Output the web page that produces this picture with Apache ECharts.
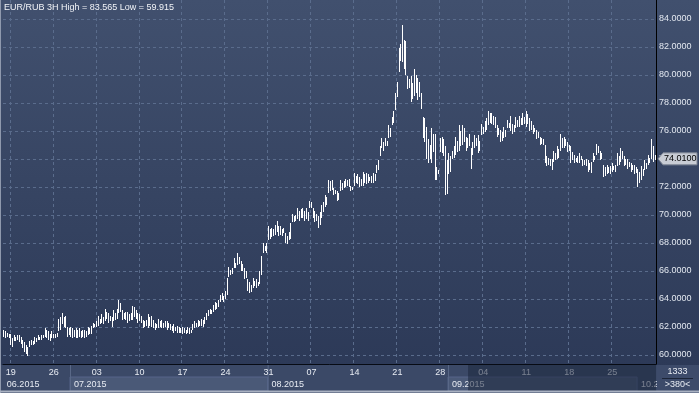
<!DOCTYPE html>
<html><head><meta charset="utf-8">
<script src="https://cdn.jsdelivr.net/npm/echarts@6/dist/echarts.min.js"></script>
<style>html,body{margin:0;padding:0;background:#2f3c5a}#c{width:699px;height:393px}</style>
</head><body><div id="c"></div>
<script>
// ---- data (3H bars, EUR/RUB) ----
const highs = [
61.8,61.7,61.6,61.5,61.5,61.2,61.4,61.3,61.4,61.4,
61.3,61.1,60.9,60.7,60.6,61.0,61.1,61.0,61.3,61.2,
61.4,61.3,61.4,61.4,61.9,61.8,61.7,61.5,61.7,61.5,
61.5,61.6,62.6,62.7,63.0,62.7,62.8,62.0,61.9,62.0,
61.9,61.8,61.9,61.8,61.9,61.7,61.8,61.8,61.7,62.0,
61.9,62.1,62.3,62.2,62.4,62.8,62.6,62.9,62.7,63.3,
63.1,63.0,62.8,62.7,63.2,63.0,63.3,63.9,63.7,63.2,
63.0,63.1,63.1,62.9,63.0,63.5,63.4,63.2,63.0,62.9,
62.8,62.5,62.4,62.5,62.9,62.7,62.8,62.5,62.3,62.2,
62.6,62.4,62.5,62.3,62.4,62.4,62.3,62.2,62.1,62.2,
62.0,62.1,62.0,61.9,62.0,61.9,61.8,62.0,61.9,61.8,
62.2,62.4,62.3,62.5,62.4,62.6,62.5,62.7,63.0,63.2,
63.3,63.2,63.6,63.8,63.7,63.9,64.3,64.4,64.2,64.6,
65.5,66.3,66.1,66.2,66.9,66.6,67.3,67.0,66.7,66.5,
66.2,66.0,65.4,65.2,65.0,65.5,65.3,65.4,65.2,66.0,
67.1,68.0,67.8,68.0,69.2,69.0,69.1,69.0,69.3,69.6,
69.2,69.2,69.0,69.1,68.7,68.5,68.8,69.4,70.1,69.9,
70.0,70.5,70.3,70.4,70.5,70.3,70.5,70.2,71.0,70.9,
70.5,70.3,70.1,69.9,70.2,70.7,70.9,71.4,71.3,72.5,
72.4,72.5,71.9,71.8,71.7,71.6,72.5,72.3,72.4,72.6,
72.5,72.6,72.1,72.0,73.0,72.8,72.9,72.7,72.6,73.1,
72.9,73.0,72.9,72.7,72.8,73.0,72.9,73.6,73.9,74.9,
75.5,75.2,75.5,75.3,76.4,76.2,77.0,77.4,78.7,79.5,
81.9,82.2,83.565,82.5,82.4,79.9,79.7,79.9,79.4,80.4,
80.0,79.8,79.5,78.7,77.0,76.9,76.3,75.4,75.0,76.2,
75.8,75.8,73.4,73.2,75.5,75.6,75.4,74.9,73.9,74.4,
74.2,74.6,74.9,75.6,75.3,76.4,76.0,76.4,76.2,75.6,
75.5,75.8,74.8,75.2,75.7,75.5,75.7,75.3,76.5,76.3,
76.7,76.9,77.4,77.3,77.3,77.1,77.0,76.4,76.2,76.1,
75.9,76.3,76.1,76.8,76.6,77.1,76.5,76.4,77.0,76.8,
77.1,76.9,77.3,77.0,77.4,77.2,76.9,76.7,76.4,76.2,
76.1,75.9,75.6,75.5,75.4,75.0,74.2,74.1,74.0,74.0,
74.6,74.4,74.9,74.7,75.8,75.5,75.6,75.4,75.2,75.0,
74.9,74.5,74.3,74.1,74.2,74.4,74.2,74.0,73.9,74.0,
73.9,73.7,73.8,74.4,74.2,75.1,74.9,74.6,74.4,73.6,
73.4,73.6,73.4,73.5,73.7,73.5,73.6,74.4,74.2,74.8,
74.6,74.2,74.0,74.0,73.8,73.7,73.6,73.6,73.4,73.3,
73.1,73.5,73.3,73.9,73.7,74.3,74.1,75.4,74.9,74.3
];
const lows = [
61.3,61.2,61.3,61.2,60.7,60.6,61.0,61.0,61.1,60.9,
60.8,60.5,60.2,60.1,59.915,60.6,60.7,60.7,60.8,60.9,
61.1,61.1,61.1,61.2,61.3,61.2,61.1,61.0,61.2,61.2,
61.2,61.3,61.7,61.8,62.2,62.0,61.9,61.3,61.4,61.3,
61.2,61.3,61.2,61.2,61.3,61.2,61.3,61.2,61.3,61.4,
61.5,61.5,61.9,62.0,62.0,62.1,62.2,62.3,62.2,62.4,
62.6,62.3,62.4,62.0,62.4,62.5,62.6,63.0,63.1,62.5,
62.6,62.5,62.3,62.4,62.5,62.5,62.7,62.6,62.3,62.4,
62.3,61.9,62.0,62.1,61.9,62.1,62.0,61.9,61.8,61.9,
61.9,62.0,61.9,61.9,62.0,61.8,61.9,61.8,61.7,61.6,
61.7,61.6,61.6,61.6,61.5,61.6,61.5,61.6,61.5,61.6,
61.8,61.9,62.0,62.0,62.1,62.1,62.0,62.2,62.5,62.8,
62.9,62.9,63.1,63.2,63.3,63.4,63.8,63.9,63.8,64.0,
64.3,65.6,65.7,65.8,66.2,66.2,66.4,66.5,66.0,66.0,
65.4,65.5,64.6,64.4,64.5,64.8,64.9,64.8,64.9,65.1,
65.7,67.3,67.4,67.3,68.2,68.3,68.4,68.5,68.6,68.8,
68.5,68.6,68.5,68.7,68.0,67.9,68.2,68.3,69.5,69.5,
69.6,69.7,69.6,69.8,69.8,69.6,69.7,69.6,70.5,70.5,
69.8,69.5,69.6,69.1,69.3,69.8,70.2,70.6,70.7,71.6,
71.7,71.8,71.4,71.5,71.0,71.1,71.7,71.8,71.9,72.0,
72.1,72.0,71.7,71.8,72.1,72.3,72.2,72.0,72.1,72.1,
72.3,72.2,72.3,72.4,72.3,72.3,72.4,73.0,73.2,74.2,
74.8,74.6,74.9,74.9,75.5,75.6,76.4,76.6,77.5,78.4,
80.2,81.0,80.9,80.4,80.0,79.0,79.1,78.1,78.3,78.5,
78.7,78.2,78.4,77.6,75.5,75.2,74.0,73.7,74.0,73.7,
74.5,72.5,72.5,72.9,74.5,74.4,74.2,71.4,71.5,72.9,
73.1,74.0,74.1,74.3,74.5,74.6,74.9,75.0,75.2,74.6,
74.8,74.9,73.3,74.3,74.8,74.9,74.4,74.6,75.7,75.8,
75.9,76.1,76.4,76.6,76.5,76.4,76.2,75.6,75.7,75.2,
75.3,75.5,75.6,76.2,76.2,76.0,75.8,75.9,76.2,76.3,
76.3,76.4,76.4,76.5,76.3,76.5,76.0,76.1,75.8,75.9,
75.4,75.5,75.0,75.1,75.0,73.7,73.5,73.6,73.5,73.2,
73.8,73.9,74.0,74.1,74.6,74.8,74.8,74.9,74.5,74.6,
73.7,73.9,73.7,73.8,73.7,73.7,73.9,73.5,73.6,73.5,
73.1,73.2,73.0,73.8,73.9,74.3,74.4,73.9,74.0,72.7,
72.8,72.9,73.0,72.9,73.1,73.2,73.1,73.5,73.6,73.8,
74.0,73.5,73.6,73.3,73.4,73.1,73.2,72.9,73.0,72.0,
72.3,72.5,72.8,73.2,73.3,73.6,73.7,74.0,73.8,73.9
];
const lastClose = 74.01;
const weekLabels = ['19','26','03','10','17','24','31','07','14','21','28','04','11','18','25'];
const weekIdx = [4,29,54,79,104,129,154,179,204,229,254,279,304,329,354];
const monthLabels = ['06.2015','07.2015','08.2015','09.2015','10.2015'];
const monthIdx = [0,39,154,259,369];
const titleText = 'EUR/RUB 3H High = 83.565 Low = 59.915';
const barCountText = '1333';
const visibleText = '>380<';

const FONT = 'Liberation Sans';
const cats = highs.map((_, i) => String(i));
const gridCol = '#5a6c8c';

const chart = echarts.init(document.getElementById('c'), null, {renderer: 'canvas', width: 699, height: 393});
const option = {
  animation: false,
  backgroundColor: new echarts.graphic.LinearGradient(0, 0, 0, 1, [
    {offset: 0, color: '#41506e'}, {offset: 1, color: '#2b3856'}
  ]),
  textStyle: {fontFamily: FONT},
  grid: [
    {left: 3, right: 43, top: 19, bottom: 38},
    {left: 3, right: 43, top: 0, bottom: 29}
  ],
  xAxis: [
    {type: 'category', gridIndex: 0, data: cats, show: false},
    {type: 'category', gridIndex: 1, data: cats, position: 'bottom',
     axisLine: {show: true, onZero: false, lineStyle: {color: '#070b14', width: 1}},
     axisTick: {show: false},
     axisLabel: {interval: (i) => weekIdx.includes(i), formatter: (v) => weekLabels[weekIdx.indexOf(+v)] || '',
                 color: '#e8ecf3', fontSize: 9, fontFamily: FONT, margin: 4},
     splitLine: {show: true, interval: (i) => weekIdx.includes(i), lineStyle: {type: [3, 3], color: gridCol, width: 1}}},
    {type: 'category', gridIndex: 1, data: cats, position: 'bottom',
     axisLine: {show: false}, axisTick: {show: false}, splitLine: {show: false},
     axisLabel: {interval: (i) => monthIdx.includes(i), formatter: (v) => monthLabels[monthIdx.indexOf(+v)] || '',
                 align: 'left', padding: [0, 0, 0, 3], color: '#e8ecf3', fontSize: 9, fontFamily: FONT, margin: 16}}
  ],
  yAxis: [
    {type: 'value', gridIndex: 0, position: 'right', min: 60, max: 84, interval: 2,
     axisLine: {show: false}, axisTick: {show: false},
     axisLabel: {formatter: (v) => v.toFixed(4), color: '#e3e8f0', fontSize: 9, fontFamily: FONT, margin: 3},
     splitLine: {show: true, lineStyle: {type: [3, 3], color: gridCol, width: 1}}},
    {type: 'value', gridIndex: 1, position: 'right',
     axisLine: {show: true, onZero: false, lineStyle: {color: '#000000', width: 1}},
     axisTick: {show: false}, axisLabel: {show: false}, splitLine: {show: false}}
  ],
  series: [{
    type: 'custom', xAxisIndex: 0, yAxisIndex: 0,
    data: highs.map((h, i) => [i, lows[i], h]),
    encode: {x: 0, y: [1, 2]},
    renderItem: (params, api) => {
      const pLow = api.coord([api.value(0), api.value(1)]);
      const pHigh = api.coord([api.value(0), api.value(2)]);
      const x = Math.round(pLow[0] - 0.5);
      const yTop = Math.round(pHigh[1]);
      const h = Math.max(1, Math.round(pLow[1]) - yTop);
      return {type: 'rect', shape: {x: x, y: yTop, width: 1, height: h}, style: {fill: '#ffffff'}};
    }
  }]
};
chart.setOption(option);

// decorations positioned from the axes
const c0 = chart.convertToPixel({xAxisIndex: 1}, 0);
const c1 = chart.convertToPixel({xAxisIndex: 1}, 1);
const bw = c1 - c0;
const edge = (i) => chart.convertToPixel({xAxisIndex: 1}, i) - bw / 2;
const yTag = chart.convertToPixel({yAxisIndex: 0}, lastClose);
const axisX = edge(highs.length);
const bottomY = chart.convertToPixel({yAxisIndex: 1}, 0);
const W = 699, H = 393;

const graphics = [
  {type: 'rect', z: -10, shape: {x: 0, y: bottomY + 1, width: W, height: H - bottomY}, style: {fill: '#3b4967'}},
  {type: 'rect', z: -9, shape: {x: edge(monthIdx[1]), y: bottomY + 13, width: edge(monthIdx[2]) - edge(monthIdx[1]), height: 14},
   style: {fill: '#4a5977', stroke: '#56658a', lineWidth: 1}},
  {type: 'rect', z: -9, shape: {x: edge(monthIdx[3]), y: bottomY + 13, width: edge(monthIdx[4]) - edge(monthIdx[3]), height: 14},
   style: {fill: '#4a5977', stroke: '#56658a', lineWidth: 1}},
  {type: 'line', z: -8, shape: {x1: edge(monthIdx[1]) + 0.5, y1: bottomY + 1, x2: edge(monthIdx[1]) + 0.5, y2: H - 2}, style: {stroke: '#5a6988', lineWidth: 1}},
  {type: 'line', z: -8, shape: {x1: edge(monthIdx[2]) + 0.5, y1: bottomY + 1, x2: edge(monthIdx[2]) + 0.5, y2: H - 2}, style: {stroke: '#5a6988', lineWidth: 1}},
  {type: 'line', z: -8, shape: {x1: edge(monthIdx[3]) + 0.5, y1: bottomY + 1, x2: edge(monthIdx[3]) + 0.5, y2: H - 2}, style: {stroke: '#5a6988', lineWidth: 1}},
  // dim overlay on the right part of the time scale
  {type: 'rect', z: 60, shape: {x: edge(monthIdx[3]) + 20, y: bottomY + 1, width: axisX - edge(monthIdx[3]) - 20, height: H - bottomY - 3},
   style: {fill: 'rgba(28,38,60,0.55)'}},
  // right-bottom panel
  {type: 'rect', z: 70, shape: {x: axisX + 1, y: bottomY + 1, width: W - axisX - 1, height: H - bottomY - 1}, style: {fill: '#3d4b6a'}},
  {type: 'line', z: 71, shape: {x1: axisX + 6, y1: bottomY + 14.5, x2: W - 6, y2: bottomY + 14.5}, style: {stroke: '#1c2538', lineWidth: 1}},
  {type: 'text', z: 72, x: (axisX + W) / 2, y: bottomY + 8, style: {text: barCountText, fill: '#e8ecf3', font: '9px ' + FONT, align: 'center', verticalAlign: 'middle'}},
  {type: 'text', z: 72, x: (axisX + W) / 2, y: bottomY + 21, style: {text: visibleText, fill: '#e8ecf3', font: '9px ' + FONT, align: 'center', verticalAlign: 'middle'}},
  // frame
  {type: 'line', z: 80, shape: {x1: 0.5, y1: 0, x2: 0.5, y2: H}, style: {stroke: '#8f99ad', lineWidth: 1}},
  {type: 'line', z: 80, shape: {x1: 0, y1: H - 1.5, x2: W, y2: H - 1.5}, style: {stroke: '#aab2c2', lineWidth: 2}},
  // title
  {type: 'text', z: 80, x: 4, y: 8, style: {text: titleText, fill: '#f2f4f8', font: '9px ' + FONT, verticalAlign: 'middle'}},
  // last price tag
  {type: 'polygon', z: 80, shape: {points: [[axisX + 2, yTag], [axisX + 7, yTag - 6], [W - 2, yTag - 6], [W - 2, yTag + 6], [axisX + 7, yTag + 6]]},
   style: {fill: '#c8ccd4', stroke: '#7e8594', lineWidth: 1}},
  {type: 'text', z: 81, x: axisX + 8, y: yTag, style: {text: lastClose.toFixed(4), fill: '#000000', font: '9px ' + FONT, verticalAlign: 'middle'}}
];
chart.setOption({graphic: graphics});
</script>
</body></html>
